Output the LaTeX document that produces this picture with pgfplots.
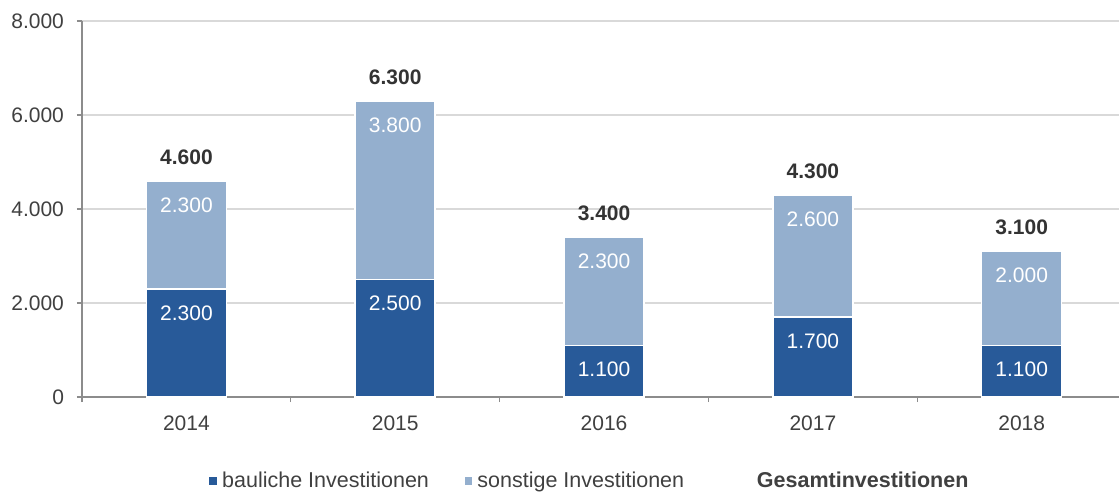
\documentclass[border=0pt]{standalone}
\usepackage{fontspec}
\setmainfont{Liberation Sans}
\usepackage{pgfplots}
\pgfplotsset{compat=1.18}
\definecolor{dblue}{HTML}{285A99}
\definecolor{lblue}{HTML}{94AFCE}
\definecolor{txt}{HTML}{404040}
\definecolor{tot}{HTML}{333333}
\definecolor{gridc}{HTML}{D9D9D9}
\definecolor{axc}{HTML}{8C8C8C}
\pgfplotsset{sq/.style={legend image code/.code={\fill[##1] (0pt,-2.2pt) rectangle (4.4pt,2.2pt);}}}
\pgfkeys{/pgf/number format/.cd, 1000 sep={.}, assume math mode=true}
\begin{document}
\begin{tikzpicture}
\begin{axis}[name=ax, at={(0,0)}, anchor=south west,
  scale only axis, width=518.5pt, height=188pt,
  xmin=-0.5, xmax=4.466, ymin=0, ymax=8000,
  ybar stacked, bar width=40pt,
  axis x line*=bottom, axis y line*=left,
  axis line style={axc, line width=0.6pt},
  ytick={0,2000,4000,6000,8000},
  scaled y ticks=false,
  xtick={0,1,2,3,4}, xticklabels={2014,2015,2016,2017,2018},
  minor xtick={-0.5,0.5,1.5,2.5,3.5},
  tick align=outside,
  major tick length=2.5pt, minor tick length=2.5pt,
  major x tick style={draw=none},
  tick style={axc, line width=0.6pt},
  ymajorgrids, grid style={gridc, line width=0.8pt},
  ticklabel style={font=\fontsize{10.5}{12}\selectfont, text=txt},
  xticklabel style={yshift=-3.5pt},
  yticklabel style={xshift=-3pt, /pgf/number format/.cd, 1000 sep={.}, assume math mode=true},
  /pgf/number format/.cd, 1000 sep={.}, assume math mode=true, /pgfplots/.cd,
  legend style={at={(0.49,-0.2234)}, anchor=center, draw=none, fill=none,
    legend columns=3, font=\fontsize{10.75}{12}\selectfont, text=txt,
    /tikz/every even column/.append style={column sep=15pt}},
  legend cell align=left,
  nodes near coords,
  visualization depends on={rawy \as \rawy},
  every node near coord/.append style={font=\fontsize{10.5}{12}\selectfont, text=white, anchor=center, yshift={\rawy*0.01175pt-12pt}},
]
\addplot[fill=dblue, draw=white, line width=0.8pt, sq] coordinates {(0,2300) (1,2500) (2,1100) (3,1700) (4,1100)};
\addplot[fill=lblue, draw=white, line width=0.8pt, sq] coordinates {(0,2300) (1,3800) (2,2300) (3,2600) (4,2000)};
\addlegendimage{legend image code/.code={\path (0pt,0pt) (17pt,0pt);}}
\legend{bauliche Investitionen, sonstige Investitionen, \textbf{Gesamtinvestitionen}}
\end{axis}
\begin{axis}[at={(0,0)}, anchor=south west,
  scale only axis, width=518.5pt, height=188pt,
  xmin=-0.5, xmax=4.466, ymin=0, ymax=8000,
  hide axis, clip=false,
  nodes near coords,
  every node near coord/.append style={font=\bfseries\fontsize{10.5}{12}\selectfont, text=tot, anchor=center, yshift=12pt,
    /pgf/number format/.cd, 1000 sep={.}, assume math mode=true},
]
\addplot[draw=none, mark=none] coordinates {(0,4600) (1,6300) (2,3400) (3,4300) (4,3100)};
\end{axis}
\pgfresetboundingbox
\path (ax.south west) ++(-41pt,-49pt) rectangle ++(559.5pt,247.5pt);
\end{tikzpicture}
\end{document}
